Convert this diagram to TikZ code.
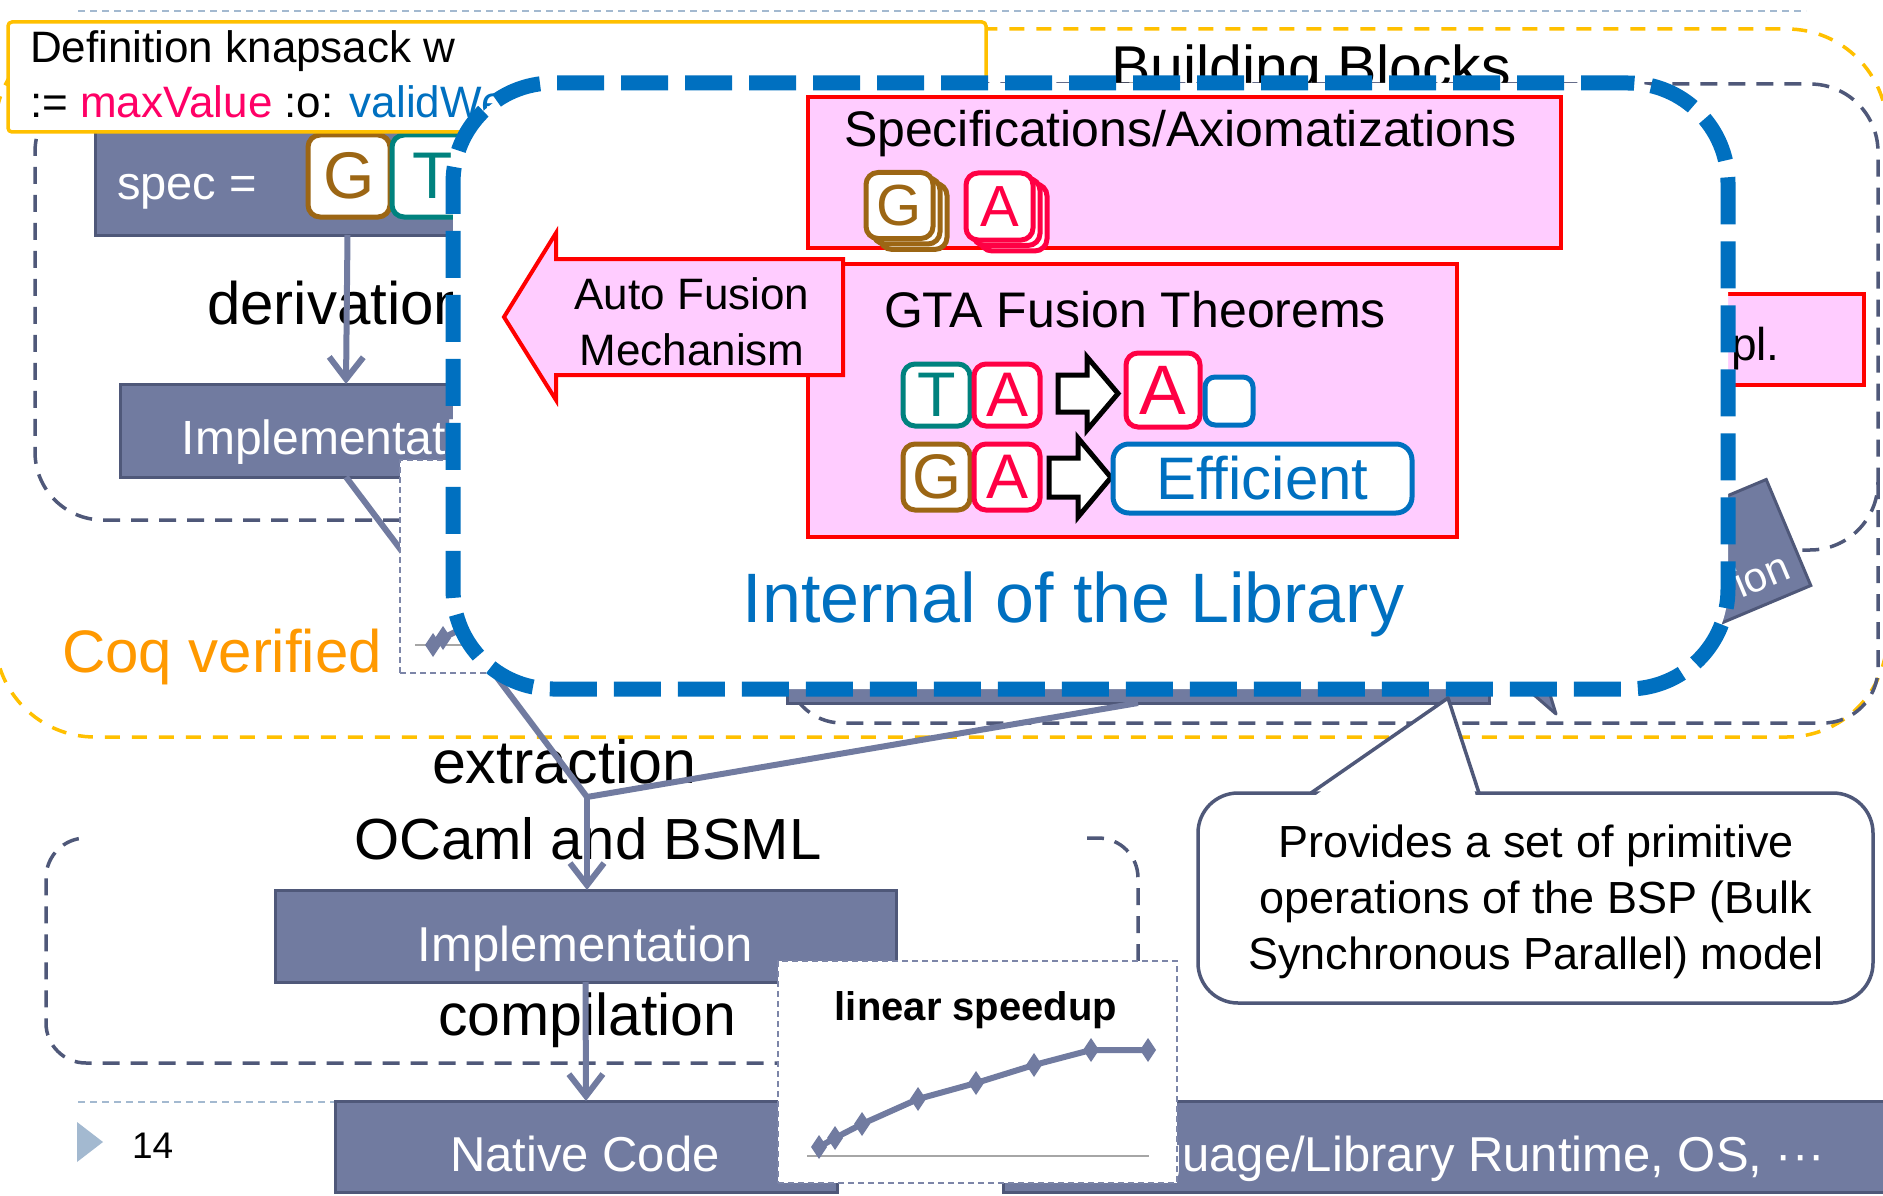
\documentclass[tikz,border=0pt]{standalone}
\usepackage{fontspec}
\setmainfont{Liberation Sans}
\usetikzlibrary{arrows.meta}
\newcommand\fsz[1]{\fontsize{#1}{#1}\selectfont}
\definecolor{slateF}{HTML}{717BA0}
\definecolor{slateD}{HTML}{4F5879}
\definecolor{ygold}{HTML}{FFC000}
\definecolor{libblue}{HTML}{0070C0}
\definecolor{pinkF}{HTML}{FFCCFF}
\definecolor{redB}{HTML}{FF0000}
\definecolor{brownT}{HTML}{9C6614}
\definecolor{tealT}{HTML}{00827E}
\definecolor{crimT}{HTML}{FF0044}
\definecolor{magT}{HTML}{FF0066}
\definecolor{orangeT}{HTML}{FF9900}
\definecolor{lineblue}{HTML}{A3B9D0}
\definecolor{axisgray}{HTML}{A6A6A6}
\definecolor{chartdash}{HTML}{7C85A8}
\begin{document}
\begin{tikzpicture}[x=1pt, y=-1pt,
  every node/.style={inner sep=0pt, outer sep=0pt},
  gbox/.style={draw=slateD, fill=slateF, line width=3pt},
  pinkbox/.style={draw=redB, fill=pinkF, line width=4pt},
  tile/.style={draw=#1, text=#1, fill=white, line width=5pt, rounded corners=12pt},
  conn/.style={draw=slateF, line width=6pt},
  barb/.style={-{Straight Barb[length=22pt,width=34pt]}},
  gdash/.style={draw=slateD, line width=3.5pt, dash pattern=on 17pt off 11pt},
  ydash/.style={draw=ygold, line width=3.5pt, dash pattern=on 15pt off 12pt},
  rule/.style={draw=lineblue, line width=1.5pt, dash pattern=on 7pt off 5pt},
  lbl/.style={anchor=base west, font=\fsz{60}},
  barrow/.style={draw=black, fill=white, line width=5pt, line join=miter},
  chartbox/.style={draw=chartdash, fill=white, line width=2pt, dash pattern=on 6pt off 4pt},
  wtext/.style={text=white}
]
\useasboundingbox (0,0) rectangle (1883,1196);
\clip (0,0) rectangle (1883,1196);
\fill[white] (0,0) rectangle (1883,1196);

% slide rules
\draw[rule] (78,11) -- (1806,11);
\draw[rule] (78,1102) -- (1806,1102);

% Coq verified region
\draw[ydash, rounded corners=100pt] (-5,29) rectangle (1887,737);

% dashed groups
\draw[gdash, rounded corners=68pt] (400,520) -| (35,84) -| (1878,550) -- (1700,550);
\draw[gdash, rounded corners=55pt] (1878,482) |- (787,723) -- (787,600);

\node[anchor=base west, font=\fsz{59}] (bbtitle) at (1111,88) {Building Blocks};

% specification and implementation boxes (upper)
\node[gbox, minimum width=505, minimum height=117] (spec) at (347.5,176.5) {};
\node[anchor=base west, wtext, font=\fsz{47}] (spectxt) at (117,200) {spec =};
\node[tile=brownT, minimum width=82, minimum height=82, font=\fsz{66}] (sG) at (349,176) {G};
\node[tile=tealT, minimum width=82, minimum height=82, font=\fsz{66}] (sT) at (433,176) {T};

\node[gbox, minimum width=452, minimum height=93] (impA) at (346,430.5) {};
\node[anchor=base, wtext, font=\fsz{48}] (impAtxt) at (346,454) {Implementation};

% partly hidden boxes on the right
\node[gbox, rotate=22.8, anchor=east, minimum width=250, minimum height=115] (impR) at (1788.5,532.5) {};
\node[rotate=22.8, anchor=base east, wtext, font=\fsz{42}] (impRtxt) at (1793,577) {ion};
\node[gbox, minimum width=702, minimum height=103] (bar) at (1138,651.5) {};
\filldraw[draw=slateD, fill=slateF, line width=3pt, line join=round] (1526,688) -- (1556,714) -- (1548,688) -- cycle;
\node[pinkbox, minimum width=264, minimum height=91] (plbox) at (1732,339.5) {};
\node[anchor=base west, font=\fsz{46}] (pltxt) at (1731,360) {pl.};

% derivation / extraction
\node[lbl] (derivL) at (207,324) {derivation};
\draw[conn, barb] (spec.south) -- (impA.north);
\node[lbl, font=\fsz{61}] (extrL) at (432,783) {extraction};
\node[lbl, font=\fsz{58}] (ocamlL) at (354,859) {OCaml and BSML};
\coordinate (join) at (587,797);
\draw[conn] (impA.south) -- (join);
\draw[conn] (bar.south) -- (join);

% small speedup chart (mostly hidden)
\node[chartbox, minimum width=340, minimum height=213] (chartA) at (570,566.5) {};
\draw[axisgray, line width=2pt] (415,645) -- (700,645);
\draw[slateF, line width=6pt, line join=round] (433,645) -- (443,638) -- (520,600);
\foreach \px/\py in {433/645, 443/638}
  \fill[slateF] (\px,\py) +(0,-12) -- +(8,0) -- +(0,12) -- +(-8,0) -- cycle;

\node[anchor=base west, text=orangeT, font=\fsz{60}] (coqL) at (62,672) {Coq verified};

% Coq definition
\node[draw=ygold, fill=white, line width=3.5pt, rounded corners=4pt, minimum width=978, minimum height=110] (defbox) at (497,77) {};
\node[anchor=base west, font=\fsz{44}] (def1) at (30,63) {Definition knapsack w};
\node[anchor=base west, font=\fsz{44}] (def2) at (30,118) {:= \textcolor{magT}{maxValue} :o: \textcolor{libblue}{validWeight}};

% library internals
\node[draw=libblue, fill=white, line width=15pt, dash pattern=on 47pt off 17pt, rounded corners=100pt, minimum width=1275, minimum height=606] (lib) at (1090.5,386) {};

\node[pinkbox, minimum width=753, minimum height=151] (specs) at (1184.5,172.5) {};
\node[anchor=base west, font=\fsz{50}] (specstxt) at (844,147) {Specifications/Axiomatizations};
\foreach \d in {14,7}
  \node[tile=brownT, minimum width=67, minimum height=66] (stG\d) at ({899.5+\d},{205.5+0.78*\d}) {};
\node[tile=brownT, minimum width=67, minimum height=66, font=\fsz{58}] (stG) at (899.5,205.5) {G};
\foreach \d in {14,7}
  \node[tile=crimT, minimum width=67, minimum height=67] (stA\d) at ({999.5+\d},{206.5+0.78*\d}) {};
\node[tile=crimT, minimum width=67, minimum height=67, font=\fsz{58}] (stA) at (999.5,206.5) {A};

\node[pinkbox, minimum width=649, minimum height=273] (gta) at (1132.5,400.5) {};
\node[anchor=base west, font=\fsz{50}] (gtatxt) at (884,327) {GTA Fusion Theorems};

\node[tile=tealT, minimum width=67, minimum height=62, font=\fsz{63}] (r1T) at (936.5,395) {T};
\node[tile=crimT, minimum width=66, minimum height=62, font=\fsz{63}] (r1A) at (1007,395) {A};
\draw[barrow] (1058,375) -- (1087,375) -- (1087,357) -- (1118,393.5) -- (1087,430) -- (1087,412) -- (1058,412) -- cycle;
\node[tile=crimT, minimum width=74, minimum height=74, font=\fsz{70}] (r1R) at (1163,390) {A};
\node[tile=libblue, minimum width=48, minimum height=48, rounded corners=10pt] (r1B) at (1229,401) {};

\node[tile=brownT, minimum width=67, minimum height=66, font=\fsz{63}] (r2G) at (936.5,477) {G};
\node[tile=crimT, minimum width=66, minimum height=66, font=\fsz{63}] (r2A) at (1007,477) {A};
\draw[barrow] (1049,458) -- (1078,458) -- (1078,438) -- (1111,477.5) -- (1078,517) -- (1078,497) -- (1049,497) -- cycle;
\node[tile=libblue, minimum width=299, minimum height=69, rounded corners=16pt, font=\fsz{60}] (eff) at (1262.5,478.5) {Efficient};

\draw[pinkbox, line join=miter] (504,317) -- (556,233) -- (556,259) -- (843,259) -- (843,375) -- (556,375) -- (556,400) -- cycle;
\node[align=center, font=\fontsize{44}{56}\selectfont] (afm) at (692,322) {Auto Fusion\\Mechanism};

\node[anchor=base, text=libblue, font=\fsz{70}] (intL) at (1073.5,622) {Internal of the Library};

% callout
\node[draw=slateD, fill=white, line width=3.5pt, rounded corners=40pt, minimum width=675, minimum height=210] (note) at (1535.5,898) {};
\coordinate (noteTip) at (1448,698);
\fill[white] (1314,796.5) -- (noteTip) -- (1476,796.5) -- cycle;
\draw[slateD, line width=3.5pt, line join=round] (1311,793) -- (noteTip) -- (1479,793);
\node[align=center, font=\fontsize{45}{56}\selectfont] (notetxt) at (1536,902) {Provides a set of primitive\\operations of the BSP (Bulk\\Synchronous Parallel) model};

% lower group
\draw[gdash, rounded corners=40pt] (1087,838) -| (1138,1063) -| (46,838) -- (86,838);
\node[gbox, minimum width=621, minimum height=92] (impB) at (585.5,936) {};
\draw[conn, barb] (join) -- (join |- impB.north);
\node[anchor=base, wtext, font=\fsz{49}] (impBtxt) at (585.5,961) {Implementation};
\node[lbl, font=\fsz{59}] (compL) at (438,1035) {compilation};
\node[gbox, minimum width=502, minimum height=91] (native) at (586,1146.5) {};
\draw[conn, barb] (impB.south) -- (native.north);
\node[anchor=base, wtext, font=\fsz{49}] (nativetxt) at (585,1171) {Native Code};
\node[gbox, minimum width=900, minimum height=91] (runtime) at (1453,1146.5) {};
\node[anchor=base east, wtext, font=\fsz{49}] (runtimetxt) at (1825,1171) {Language/Library Runtime, OS, ···};

% speedup chart
\node[chartbox, minimum width=399, minimum height=222] (chartB) at (977.5,1072) {};
\node[anchor=base, font=\bfseries\fsz{40}] (speedL) at (976,1020) {linear speedup};
\draw[axisgray, line width=2pt] (807,1156) -- (1149,1156);
\draw[slateF, line width=6pt, line join=round] (819,1147) -- (835,1138) -- (862,1124) -- (918,1099) -- (976,1083) -- (1034,1065) -- (1091,1050) -- (1148,1050);
\foreach \px/\py in {819/1147, 835/1138, 862/1124, 918/1099, 976/1083, 1034/1065, 1091/1050, 1148/1050}
  \fill[slateF] (\px,\py) +(0,-12) -- +(8,0) -- +(0,12) -- +(-8,0) -- cycle;

% page marker
\fill[lineblue] (77,1122) -- (103,1142) -- (77,1162) -- cycle;
\node[anchor=base west, font=\fsz{37}] (pageno) at (132,1158) {14};
\end{tikzpicture}
\end{document}
